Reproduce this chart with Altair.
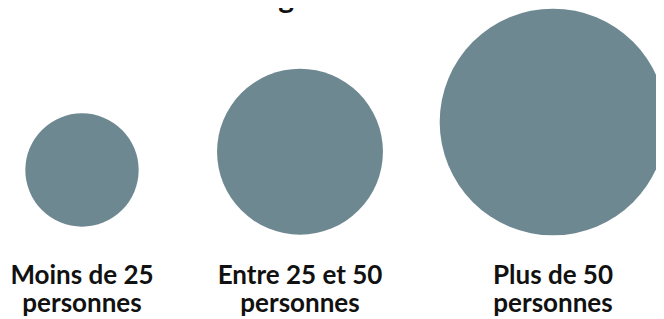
import altair as alt
import pandas as pd

# ---- data ----
categories = ["Moins de 25 personnes", "Entre 25 et 50 personnes", "Plus de 50 personnes"]
labels = ["Moins de 25\npersonnes", "Entre 25 et 50\npersonnes", "Plus de 50\npersonnes"]
values = [14, 30, 56]
title_text = "chercheurs en intelligence artificielle?"

df = pd.DataFrame({"cat": categories, "label": labels, "value": values})

CIRCLE_COLOR = "#6e8891"
FONT = "Lato"
W, H = 648, 311

# column layout: category order -> column centre
x_scale = alt.Scale(domain=[1, 2, 3], range=[74, 292, 545])
size_scale = alt.Scale(domain=[0, 56], range=[0, 51360])
y_scale = alt.Scale(domain=[0, 56], range=[178, 114])

base = alt.Chart(df).transform_window(idx="row_number()")

circles = base.mark_circle(color=CIRCLE_COLOR, opacity=1).encode(
    x=alt.X("idx:Q", scale=x_scale, axis=None),
    y=alt.Y("value:Q", scale=y_scale, axis=None),
    size=alt.Size("value:Q", scale=size_scale, legend=None),
    tooltip=["cat:N", "value:Q"],
)

texts = base.mark_text(
    font=FONT, fontSize=26, fontWeight="bold", color="#111111",
    align="center", baseline="alphabetic", lineBreak="\n", lineHeight=28,
).encode(
    x=alt.X("idx:Q", scale=x_scale, axis=None),
    y=alt.value(276),
    text="label:N",
)

title = alt.Chart(pd.DataFrame({"t": [title_text]})).mark_text(
    font=FONT, fontSize=30, fontWeight="bold", color="#111111",
    align="left", baseline="alphabetic",
).encode(text="t:N", x=alt.value(2), y=alt.value(0))

chart = alt.layer(circles, texts, title).properties(
    width=W, height=H, padding=0, autosize=alt.AutoSizeParams(type="none")
).configure_view(stroke=None)

chart.save("out.html", embed_options={"renderer": "svg", "actions": False})
